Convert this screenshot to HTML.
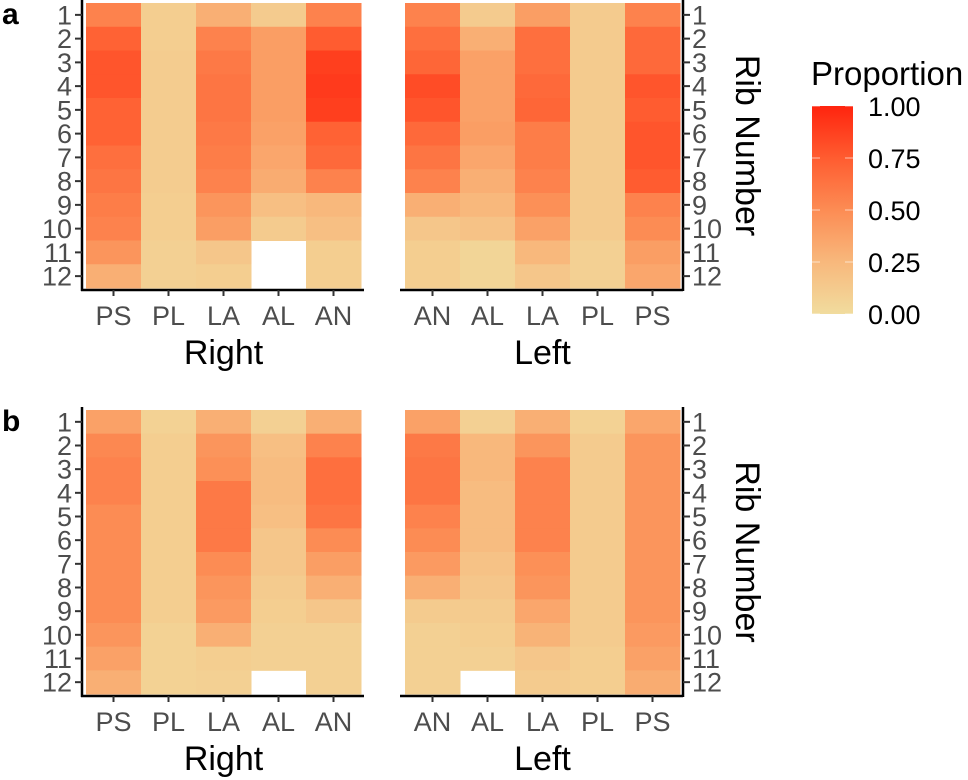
<!DOCTYPE html>
<html><head><meta charset="utf-8"><style>
body{margin:0;background:#fff;}
svg{display:block;font-family:"Liberation Sans",sans-serif;}
</style></head><body>
<svg id="chart" width="968" height="780"></svg>
<script>
const rowLabels=["1","2","3","4","5","6","7","8","9","10","11","12"];
const rightCats=["PS","PL","LA","AL","AN"];
const leftCats=["AN","AL","LA","PL","PS"];
const legendTicks=["0.00","0.25","0.50","0.75","1.00"];
// panel a
const aRight=[
[0.55,0.72,0.78,0.78,0.72,0.72,0.65,0.62,0.58,0.55,0.45,0.30],
[0.10,0.10,0.11,0.11,0.11,0.11,0.11,0.11,0.10,0.10,0.08,0.08],
[0.30,0.55,0.60,0.62,0.62,0.60,0.58,0.55,0.45,0.40,0.15,0.10],
[0.12,0.40,0.40,0.40,0.40,0.38,0.35,0.32,0.20,0.12,null,null],
[0.55,0.75,0.88,0.90,0.88,0.72,0.68,0.55,0.25,0.20,0.10,0.10]];
const aLeft=[
[0.55,0.65,0.70,0.82,0.78,0.68,0.62,0.55,0.30,0.15,0.10,0.10],
[0.12,0.30,0.38,0.38,0.38,0.40,0.35,0.30,0.25,0.18,0.05,0.05],
[0.40,0.65,0.65,0.68,0.70,0.58,0.58,0.55,0.48,0.38,0.25,0.15],
[0.12,0.12,0.12,0.12,0.12,0.12,0.12,0.12,0.12,0.12,0.08,0.08],
[0.55,0.68,0.68,0.78,0.75,0.78,0.78,0.75,0.55,0.50,0.40,0.35]];
// panel b
const bRight=[
[0.38,0.52,0.55,0.55,0.50,0.50,0.50,0.50,0.50,0.45,0.38,0.30],
[0.07,0.10,0.10,0.10,0.10,0.10,0.10,0.10,0.10,0.07,0.07,0.07],
[0.30,0.45,0.48,0.60,0.60,0.60,0.50,0.45,0.42,0.30,0.10,0.08],
[0.08,0.20,0.22,0.22,0.20,0.15,0.15,0.12,0.10,0.08,0.08,null],
[0.30,0.55,0.65,0.65,0.62,0.50,0.40,0.30,0.15,0.08,0.08,0.08]];
const bLeft=[
[0.38,0.60,0.62,0.62,0.55,0.50,0.42,0.30,0.12,0.08,0.08,0.08],
[0.08,0.25,0.25,0.22,0.22,0.22,0.18,0.15,0.12,0.10,0.08,null],
[0.30,0.45,0.55,0.55,0.55,0.55,0.48,0.45,0.35,0.28,0.15,0.12],
[0.07,0.12,0.12,0.12,0.12,0.12,0.12,0.12,0.12,0.12,0.10,0.10],
[0.35,0.45,0.45,0.45,0.45,0.45,0.45,0.45,0.45,0.42,0.38,0.32]];

const NS="http://www.w3.org/2000/svg";
const svg=document.getElementById('chart');
function mk(tag,attrs,parent,text){const e=document.createElementNS(NS,tag);for(const k in attrs)e.setAttribute(k,attrs[k]);if(text!==undefined)e.textContent=text;(parent||svg).appendChild(e);return e;}
const stops=[[0,[241,220,158]],[0.25,[248,184,124]],[0.5,[252,140,84]],[0.75,[255,92,48]],[1,[255,36,14]]];
function color(v){for(let i=1;i<stops.length;i++){if(v<=stops[i][0]){const a=stops[i-1],b=stops[i];const t=(v-a[0])/(b[0]-a[0]);const c=a[1].map((x,j)=>Math.round(x+(b[1][j]-x)*t));return `rgb(${c})`;}}return 'rgb(255,36,14)';}
const colW=55;
function xScale(x0,i){return x0+i*colW;}
function drawPanel(top,bottom,letter,suffix){
  const rowH=(bottom-top)/12;
  const yScale=r=>top+r*rowH;
  const g=mk('g',{});
  
  
  const L=mk('text',{x:2,y:top+21,'font-size':30,'font-weight':'bold',fill:'#000'},g,letter);
  
  
  const sets=[[86,rightCats,suffix==='a'?aRight:bRight,'right'],[405,leftCats,suffix==='a'?aLeft:bLeft,'left']];
  sets.forEach(([x0,cats,data,side])=>{
    data.forEach((col,ci)=>col.forEach((v,ri)=>{
      if(v===null)return;
      const r=mk('rect',{x:xScale(x0,ci),y:yScale(ri),width:colW+0.5,height:rowH+0.5,fill:color(v)},g);
      
      
    }));
    const ax=mk('line',{x1:x0-5,x2:x0+5*colW+3,y1:bottom+2,y2:bottom+2,stroke:'#000','stroke-width':2.5},g);
    
    
    cats.forEach((c,ci)=>{
      const cx=xScale(x0,ci)+colW/2;
      mk('line',{x1:cx,x2:cx,y1:bottom+2,y2:bottom+8,stroke:'#333','stroke-width':2},g);
      const t=mk('text',{x:cx,y:bottom+37,'font-size':27,fill:'#4d4d4d','text-anchor':'middle'},g,c);
      
      
    });
    const tt=mk('text',{x:x0+2.5*colW,y:bottom+76,'font-size':34,fill:'#000','text-anchor':'middle'},g,side==='right'?'Right':'Left');
    
    
  });
  const ly=mk('line',{x1:82,x2:82,y1:top-3,y2:bottom+3,stroke:'#000','stroke-width':2.5},g);
  
  
  const ry=mk('line',{x1:683,x2:683,y1:top-3,y2:bottom+3,stroke:'#000','stroke-width':2.5},g);
  
  
  rowLabels.forEach((lab,ri)=>{
    const cy=yScale(ri)+rowH/2;
    mk('line',{x1:75,x2:82,y1:cy,y2:cy,stroke:'#333','stroke-width':2},g);
    mk('line',{x1:683,x2:690,y1:cy,y2:cy,stroke:'#333','stroke-width':2},g);
    const a=mk('text',{x:72,y:cy+9.5,'font-size':27,fill:'#4d4d4d','text-anchor':'end'},g,lab);
    
    
    const b=mk('text',{x:692,y:cy+9.5,'font-size':27,fill:'#4d4d4d'},g,lab);
    
    
  });
  const cyT=(top+bottom)/2;
  const yt=mk('text',{x:0,y:0,'font-size':34,fill:'#000','text-anchor':'middle',transform:`translate(736,${cyT}) rotate(90)`},g,'Rib Number');
  
  
}
drawPanel(3,288,'a','a');
drawPanel(410,694,'b','b');

// legend
const defs=mk('defs',{});
const grad=mk('linearGradient',{id:'lg',x1:0,y1:1,x2:0,y2:0},defs);
stops.forEach(s=>mk('stop',{offset:s[0],'stop-color':color(s[0])},grad));
const lgT=mk('text',{x:811,y:85,'font-size':33,fill:'#000'},null,'Proportion');


const lgTop=106,lgBot=314;
const bar=mk('rect',{x:812,y:lgTop,width:41,height:lgBot-lgTop,fill:'url(#lg)'});


legendTicks.forEach((t,i)=>{
  const y=lgBot-(lgBot-lgTop)*parseFloat(t);
  mk('line',{x1:812,x2:820,y1:y,y2:y,stroke:'#fff','stroke-opacity':0.6,'stroke-width':1});
  mk('line',{x1:845,x2:853,y1:y,y2:y,stroke:'#fff','stroke-opacity':0.6,'stroke-width':1});
  const lt=mk('text',{x:868,y:y+10,'font-size':27,fill:'#000'},null,t);
  
  
});
</script>
</body></html>
